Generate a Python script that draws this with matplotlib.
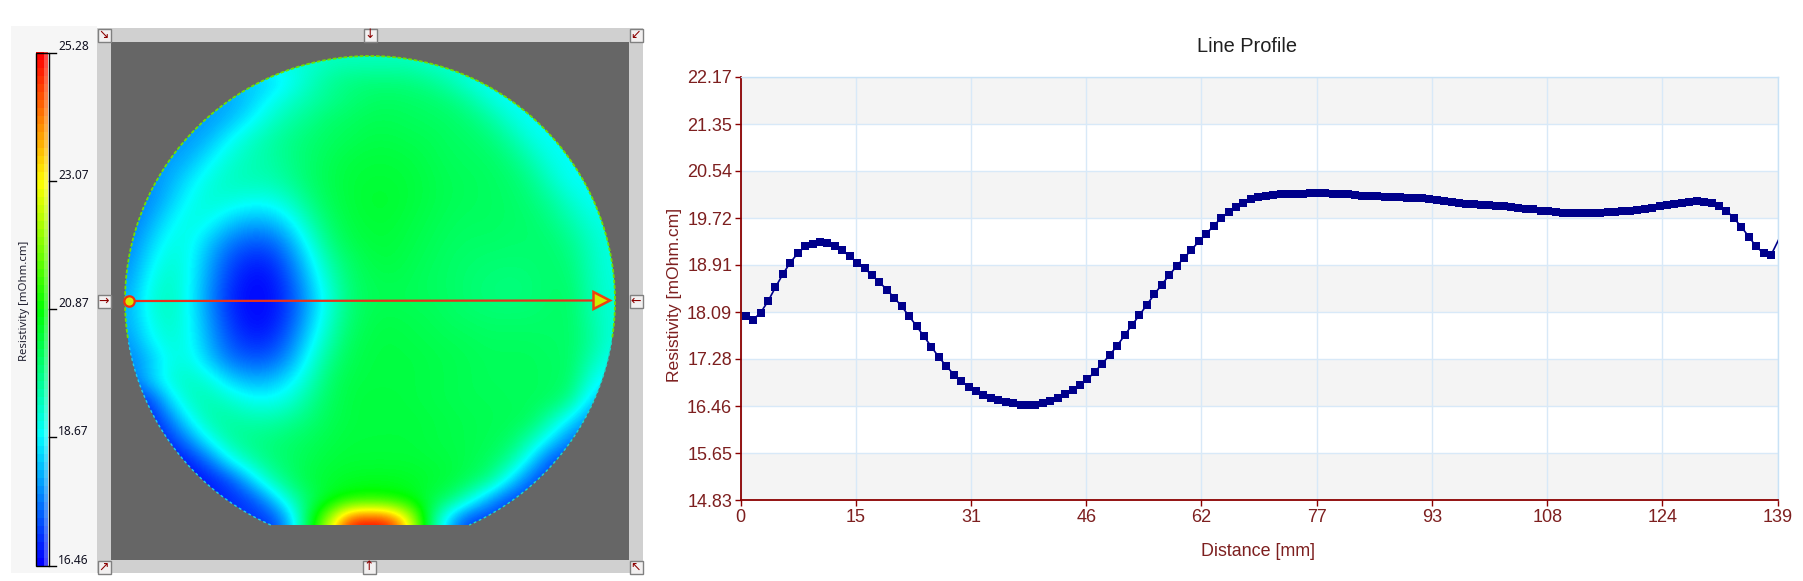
import numpy as np
import matplotlib
matplotlib.use("Agg")
import matplotlib.pyplot as plt
from matplotlib.colors import LinearSegmentedColormap
from matplotlib.patches import Rectangle, Polygon

W = 1803
H = 581

# line profile
distance = [
    0.7, 1.7, 2.7, 3.7, 4.7, 5.7, 6.7, 7.7, 8.7, 9.7,
    10.7, 11.7, 12.7, 13.7, 14.7, 15.7, 16.7, 17.7, 18.7, 19.7,
    20.7, 21.7, 22.7, 23.7, 24.7, 25.7, 26.7, 27.7, 28.7, 29.7,
    30.7, 31.7, 32.7, 33.7, 34.7, 35.7, 36.7, 37.7, 38.7, 39.7,
    40.7, 41.7, 42.7, 43.7, 44.7, 45.7, 46.7, 47.7, 48.7, 49.7,
    50.7, 51.7, 52.7, 53.7, 54.7, 55.7, 56.7, 57.7, 58.7, 59.7,
    60.7, 61.7, 62.7, 63.7, 64.7, 65.7, 66.7, 67.7, 68.7, 69.7,
    70.7, 71.7, 72.7, 73.7, 74.7, 75.7, 76.7, 77.7, 78.7, 79.7,
    80.7, 81.7, 82.7, 83.7, 84.7, 85.7, 86.7, 87.7, 88.7, 89.7,
    90.7, 91.7, 92.7, 93.7, 94.7, 95.7, 96.7, 97.7, 98.7, 99.7,
    100.7, 101.7, 102.7, 103.7, 104.7, 105.7, 106.7, 107.7, 108.7, 109.7,
    110.7, 111.7, 112.7, 113.7, 114.7, 115.7, 116.7, 117.7, 118.7, 119.7,
    120.7, 121.7, 122.7, 123.7, 124.7, 125.7, 126.7, 127.7, 128.7, 129.7,
    130.7, 131.7, 132.7, 133.7, 134.7, 135.7, 136.7, 137.7, 138.7, 139.7,
]
resistivity = [
    18.03, 17.96, 18.08, 18.28, 18.52, 18.75, 18.95, 19.11, 19.23, 19.28,
    19.30, 19.29, 19.23, 19.16, 19.06, 18.95, 18.85, 18.73, 18.61, 18.48,
    18.34, 18.19, 18.02, 17.85, 17.67, 17.49, 17.31, 17.16, 17.01, 16.90,
    16.80, 16.72, 16.66, 16.61, 16.57, 16.54, 16.51, 16.49, 16.48, 16.48,
    16.52, 16.56, 16.60, 16.67, 16.74, 16.83, 16.93, 17.06, 17.20, 17.35,
    17.51, 17.69, 17.87, 18.04, 18.22, 18.40, 18.57, 18.73, 18.89, 19.03,
    19.17, 19.32, 19.45, 19.59, 19.72, 19.83, 19.92, 19.99, 20.05, 20.09,
    20.11, 20.125, 20.13, 20.135, 20.14, 20.145, 20.15, 20.15, 20.15, 20.145,
    20.14, 20.13, 20.12, 20.11, 20.10, 20.095, 20.09, 20.085, 20.08, 20.07,
    20.065, 20.06, 20.05, 20.03, 20.01, 20.0, 19.985, 19.97, 19.96, 19.955,
    19.945, 19.93, 19.925, 19.915, 19.90, 19.885, 19.87, 19.85, 19.835, 19.82,
    19.81, 19.805, 19.805, 19.805, 19.805, 19.81, 19.82, 19.83, 19.84, 19.85,
    19.865, 19.885, 19.90, 19.93, 19.95, 19.965, 19.985, 20.0, 20.01, 20.0,
    19.985, 19.93, 19.85, 19.72, 19.57, 19.40, 19.23, 19.11, 19.08, 19.34,
]

x_tick_pos = [0, 15.51, 31.02, 46.53, 62.04, 77.56, 93.07, 108.58, 124.09, 139.6]
x_tick_labels = ["0", "15", "31", "46", "62", "77", "93", "108", "124", "139"]
y_ticks = [14.83, 15.65, 16.46, 17.28, 18.09, 18.91, 19.72, 20.54, 21.35, 22.17]

cbar_ticks = [16.46, 18.67, 20.87, 23.07, 25.28]

# wafer map, one row per 20 px of the picture
map_rows = [
    [19.0, 19.0, 19.0, 19.0, 19.0, 19.0, 19.0, 19.0, 19.0, 19.0, 19.2, 19.2, 19.2, 19.2, 19.2, 19.0, 19.0, 19.0, 19.0, 19.0, 19.0, 19.0, 19.0, 19.0, 19.0],
    [18.2, 18.2, 18.2, 18.2, 18.2, 18.2, 18.2, 18.3, 18.7, 19.2, 19.55, 19.75, 19.8, 19.8, 19.75, 19.6, 19.3, 18.9, 18.7, 18.7, 18.7, 18.7, 18.7, 18.7, 18.7],
    [17.9, 17.9, 17.9, 17.9, 17.9, 17.9, 18.2, 18.7, 19.1, 19.4, 19.65, 19.85, 20.0, 20.05, 20.0, 19.95, 19.8, 19.5, 19.0, 18.7, 18.7, 18.7, 18.7, 18.7, 18.7],
    [17.8, 17.8, 17.8, 17.8, 17.8, 18.1, 18.6, 19.1, 19.45, 19.7, 19.95, 20.05, 20.15, 20.15, 20.1, 20.05, 20.0, 19.85, 19.55, 19.05, 18.7, 18.7, 18.7, 18.7, 18.7],
    [17.8, 17.8, 17.8, 17.8, 18.1, 18.7, 19.15, 19.45, 19.7, 19.9, 20.05, 20.15, 20.25, 20.25, 20.2, 20.15, 20.05, 20.0, 19.85, 19.5, 19.0, 18.7, 18.7, 18.7, 18.7],
    [17.8, 17.8, 17.8, 18.05, 18.6, 19.05, 19.3, 19.45, 19.7, 19.95, 20.15, 20.3, 20.35, 20.35, 20.3, 20.2, 20.1, 20.05, 20.0, 19.8, 19.4, 18.9, 18.7, 18.7, 18.7],
    [17.7, 17.7, 17.95, 18.5, 18.95, 19.2, 19.3, 19.35, 19.6, 19.95, 20.2, 20.35, 20.4, 20.4, 20.35, 20.25, 20.15, 20.1, 20.05, 19.95, 19.7, 19.2, 18.75, 18.7, 18.7],
    [17.6, 17.65, 18.2, 18.75, 19.05, 19.0, 18.85, 18.85, 19.2, 19.75, 20.15, 20.35, 20.45, 20.45, 20.35, 20.25, 20.15, 20.1, 20.05, 20.0, 19.85, 19.55, 19.1, 18.75, 18.7],
    [17.5, 17.9, 18.55, 18.95, 18.8, 18.3, 18.05, 18.1, 18.6, 19.4, 20.0, 20.3, 20.4, 20.4, 20.3, 20.2, 20.1, 20.05, 20.05, 20.0, 19.95, 19.75, 19.4, 19.0, 18.8],
    [17.6, 18.2, 18.85, 18.85, 18.2, 17.6, 17.3, 17.35, 17.95, 18.95, 19.8, 20.2, 20.35, 20.35, 20.25, 20.15, 20.05, 20.0, 20.0, 19.95, 19.95, 19.9, 19.65, 19.2, 18.9],
    [17.7, 18.5, 19.05, 18.75, 17.9, 17.15, 16.8, 16.85, 17.5, 18.5, 19.5, 20.0, 20.25, 20.3, 20.2, 20.1, 20.0, 19.95, 19.9, 19.9, 19.9, 19.95, 19.8, 19.3, 18.9],
    [17.85, 18.75, 19.2, 18.7, 17.75, 16.95, 16.55, 16.6, 17.2, 18.2, 19.2, 19.9, 20.15, 20.2, 20.15, 20.05, 20.0, 19.9, 19.85, 19.8, 19.85, 19.95, 19.9, 19.35, 18.95],
    [18.0, 18.95, 19.25, 18.65, 17.65, 16.8, 16.52, 16.56, 17.05, 18.0, 19.0, 19.83, 20.12, 20.15, 20.13, 20.08, 20.0, 19.9, 19.83, 19.8, 19.85, 19.95, 20.0, 19.4, 19.0],
    [18.0, 18.8, 19.2, 18.7, 17.75, 16.95, 16.55, 16.6, 17.15, 18.15, 19.15, 19.9, 20.2, 20.25, 20.2, 20.15, 20.05, 20.0, 19.95, 19.95, 19.95, 20.0, 20.0, 19.5, 19.0],
    [17.8, 18.6, 19.05, 18.75, 17.9, 17.15, 16.8, 16.85, 17.45, 18.45, 19.4, 20.05, 20.25, 20.3, 20.25, 20.2, 20.15, 20.1, 20.05, 20.05, 20.05, 20.0, 20.0, 19.6, 19.0],
    [17.6, 18.1, 18.85, 18.9, 18.15, 17.5, 17.25, 17.3, 17.85, 18.85, 19.7, 20.15, 20.3, 20.3, 20.3, 20.25, 20.2, 20.15, 20.1, 20.1, 20.1, 20.05, 20.0, 19.4, 18.8],
    [17.4, 18.3, 19.0, 19.2, 18.95, 18.3, 18.0, 18.05, 18.5, 19.2, 19.95, 20.25, 20.3, 20.3, 20.3, 20.25, 20.2, 20.15, 20.1, 20.1, 20.1, 20.05, 20.0, 19.0, 18.4],
    [16.8, 17.0, 18.4, 19.2, 19.35, 19.1, 18.8, 18.75, 19.0, 19.6, 20.05, 20.3, 20.35, 20.35, 20.3, 20.25, 20.2, 20.15, 20.15, 20.1, 20.1, 20.05, 19.7, 18.4, 18.0],
    [16.6, 16.7, 17.5, 18.7, 19.4, 19.5, 19.4, 19.4, 19.6, 19.85, 20.15, 20.3, 20.35, 20.35, 20.35, 20.3, 20.25, 20.2, 20.15, 20.15, 20.05, 19.4, 18.5, 17.6, 17.4],
    [16.6, 16.6, 16.9, 17.7, 18.8, 19.5, 19.7, 19.8, 19.95, 20.1, 20.25, 20.35, 20.35, 20.35, 20.35, 20.3, 20.25, 20.2, 20.15, 20.0, 19.4, 18.5, 17.5, 17.3, 17.3],
    [16.5, 16.5, 16.5, 16.8, 17.5, 18.7, 19.4, 19.8, 20.0, 20.2, 20.35, 20.4, 20.4, 20.4, 20.4, 20.35, 20.3, 20.2, 20.05, 19.6, 18.5, 17.2, 17.0, 17.0, 17.0],
    [16.5, 16.5, 16.5, 16.5, 16.7, 17.1, 18.2, 19.3, 19.9, 20.3, 20.45, 20.55, 20.6, 20.6, 20.55, 20.45, 20.35, 20.1, 19.7, 18.5, 17.3, 16.9, 16.9, 16.9, 16.9],
    [16.7, 16.7, 16.7, 16.7, 16.7, 16.8, 17.0, 17.9, 19.2, 20.0, 20.6, 20.9, 21.0, 20.9, 20.7, 20.3, 19.9, 19.0, 17.8, 17.0, 17.0, 17.0, 17.0, 17.0, 17.0],
    [16.9, 16.9, 16.9, 16.9, 16.9, 16.9, 16.9, 16.9, 18.0, 20.5, 22.5, 25.0, 25.28, 25.0, 23.0, 20.0, 18.0, 16.9, 16.9, 16.9, 16.9, 16.9, 16.9, 16.9, 16.9],
    [16.9, 16.9, 16.9, 16.9, 16.9, 16.9, 16.9, 16.9, 18.0, 20.5, 23.0, 25.28, 25.28, 25.28, 23.0, 20.0, 18.0, 16.9, 16.9, 16.9, 16.9, 16.9, 16.9, 16.9, 16.9],
]

DARK_RED = "#8b0000"
TICK_TEXT = "#7d1f1f"

cmap = LinearSegmentedColormap.from_list(
    "wafer", ["#0000ff", "#00ffff", "#00ff00", "#ffff00", "#ff0000"], N=256)

fig = plt.figure(figsize=(W / 100, H / 100), dpi=100, facecolor="white")

# left side is drawn straight in picture pixels
ax = fig.add_axes([0, 0, 1, 1])
ax.axis("off")

ax.add_patch(Rectangle((11, 26), 86, 547, fc="#f6f6f6", ec="none"))
ax.add_patch(Rectangle((97, 28), 546, 545, fc="#d0d0d0", ec="none"))
ax.add_patch(Rectangle((111, 42), 518, 518, fc="#666666", ec="none"))

# wafer outline, a circle with the flat at the bottom
cx, cy, radius, flat_y = 370, 301, 245, 525
flat_angle = np.arcsin((flat_y - cy) / radius)
angles = np.linspace(np.pi - flat_angle, 2 * np.pi + flat_angle, 300)
rim = np.column_stack([cx + radius * np.cos(angles), cy + radius * np.sin(angles)])
wafer = Polygon(rim, closed=True, transform=ax.transData, fc="none", ec="none")
ax.add_patch(wafer)

im = ax.imshow(np.array(map_rows), cmap=cmap, vmin=16.46, vmax=25.28, zorder=2,
               extent=(120, 620, 550, 50), aspect="auto", interpolation="bicubic")
im.set_clip_path(wafer)

# stray pixels on the edge of the map
upper = (rim[:, 1] < cy + 40)
ax.plot(rim[upper, 0], rim[upper, 1], color="#70e000", lw=1.3, ls=(0, (2, 1)), zorder=3)
lower_l = (rim[:, 1] >= cy + 40) & (rim[:, 0] < cx)
lower_r = (rim[:, 1] >= cy + 40) & (rim[:, 0] > cx)
ax.plot(rim[lower_l, 0], rim[lower_l, 1], color="#20d0e8", lw=1.0, ls=(0, (2, 2)), zorder=3)
ax.plot(rim[lower_r, 0], rim[lower_r, 1], color="#20d8c8", lw=1.0, ls=(0, (2, 2)), zorder=3)

# scan line on the map
ax.plot([129, 594], [301, 300.5], color="#e8301c", lw=1.6, zorder=5)
ax.plot([129], [301], "o", ms=7.5, mfc="#d8e800", mec="#f03010", mew=1.6, zorder=6)
ax.add_patch(Polygon([(593.5, 292), (593.5, 309), (610, 300.5)], closed=True,
                     fc="#d0ee00", ec="#f04010", lw=1.8, zorder=6))

# buttons round the map
buttons = [(104, 35, "↘"), (370, 35, "↓"), (636, 35, "↙"), (104, 301, "→"),
           (636, 301, "←"), (104, 567, "↗"), (369, 567, "↑"), (636, 567, "↖")]
for bx, by, arrow in buttons:
    ax.add_patch(Rectangle((bx - 6.5, by - 6.5), 13, 13, fc="#f2f0f0", ec="#808080", lw=1, zorder=7))
    ax.text(bx, by, arrow, color=DARK_RED, fontsize=9, ha="center", va="center",
            family="DejaVu Sans", zorder=8)

# colour bar
bar_values = np.linspace(25.28, 16.46, 64)[:, None]
ax.imshow(bar_values, cmap=cmap, vmin=16.46, vmax=25.28, extent=(36, 48, 566, 52), zorder=2,
          aspect="auto", interpolation="nearest")
ax.add_patch(Rectangle((44, 52), 4, 514, fc="white", ec="none", alpha=0.28, zorder=3))
ax.add_patch(Rectangle((35.5, 52.5), 13, 513.5, fc="none", ec="black", lw=1, zorder=4))
for value in cbar_ticks:
    tick_y = 566 - (value - 16.46) / (25.28 - 16.46) * (566 - 52.5)
    ax.plot([48.5, 56], [tick_y, tick_y], color="black", lw=1)
    ax.text(58, tick_y - 5.5, "%.2f" % value, fontsize=8.6, va="center", ha="left",
            family="Noto Sans", color="#101020")
ax.text(25, 301, "Resistivity [mOhm.cm]", rotation=90, fontsize=8.2, va="center",
        ha="center", family="Noto Sans", color="#202030")

ax.set_xlim(0, W)
ax.set_ylim(H, 0)

# right side, the line profile
left, right, top, bottom = 740.5, 1777.7, 76.7, 500.4
ax2 = fig.add_axes([left / W, 1 - bottom / H, (right - left) / W, (bottom - top) / H])
ax2.set_xlim(0, 139.6)
ax2.set_ylim(y_ticks[0], y_ticks[-1])

for i in range(0, len(y_ticks) - 1, 2):
    ax2.axhspan(y_ticks[i], y_ticks[i + 1], color="#f4f4f4", lw=0, zorder=0)

ax2.set_xticks(x_tick_pos)
ax2.set_xticklabels(x_tick_labels)
ax2.set_yticks(y_ticks)
ax2.set_yticklabels(["%.2f" % v for v in y_ticks])
ax2.grid(True, color="#d8e9f8", lw=1, zorder=1)
ax2.set_axisbelow(True)

ax2.plot(distance, resistivity, color="#00008b", lw=1.2, zorder=3)
ax2.plot(distance[:-1], resistivity[:-1], "s", color="#00008b", ms=6.4, mew=0, zorder=3)

for name in ["left", "bottom"]:
    ax2.spines[name].set_color(DARK_RED)
    ax2.spines[name].set_linewidth(1.3)
for name in ["top", "right"]:
    ax2.spines[name].set_color("#c8e2f6")
    ax2.spines[name].set_linewidth(1)

ax2.tick_params(axis="both", color=DARK_RED, length=4, width=1, labelcolor=TICK_TEXT,
                labelsize=13, pad=2)
for label in ax2.get_xticklabels() + ax2.get_yticklabels():
    label.set_family("Liberation Sans")

fig.text(1247 / W, 1 - 47 / H, "Line Profile", fontsize=14.4, color="#202020",
         family="Liberation Sans", ha="center", va="center")
fig.text(1258 / W, 1 - 552 / H, "Distance [mm]", fontsize=12.9, color=TICK_TEXT,
         family="Liberation Sans", ha="center", va="center")
fig.text(675 / W, 1 - 295 / H, "Resistivity [mOhm.cm]", fontsize=12.6, color=TICK_TEXT,
         family="Liberation Sans", ha="center", va="center", rotation=90)

fig.savefig("out.png", dpi=100)
